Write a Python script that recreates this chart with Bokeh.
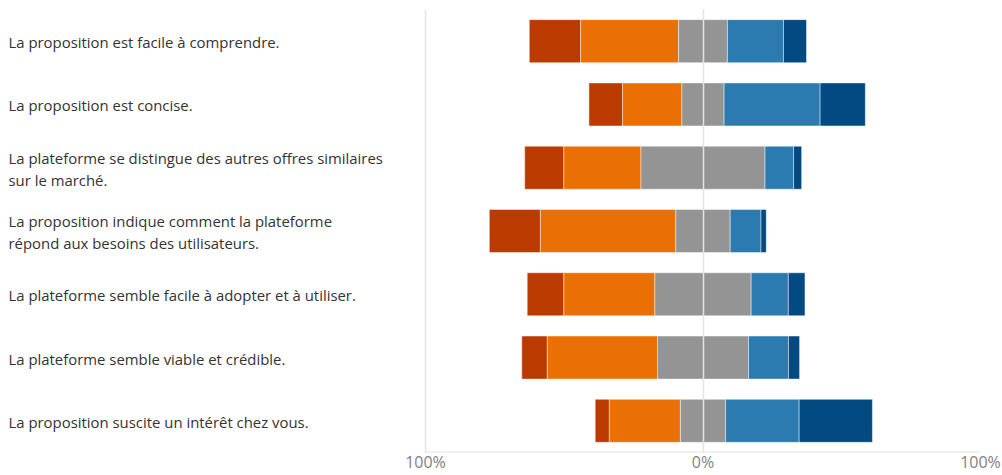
import numpy as np
from bokeh.plotting import figure
from bokeh.models import FactorRange, Range1d, FixedTicker, ColumnDataSource
from bokeh.core.properties import value
from bokeh.embed import file_html
from bokeh.resources import INLINE

categories = [
    "La proposition est facile à comprendre.",
    "La proposition est concise.",
    "La plateforme se distingue des autres offres similaires\nsur le marché.",
    "La proposition indique comment la plateforme\nrépond aux besoins des utilisateurs.",
    "La plateforme semble facile à adopter et à utiliser.",
    "La plateforme semble viable et crédible.",
    "La proposition suscite un intérêt chez vous.",
]
strongly_disagree = [18.5, 12.1, 14.1, 18.4, 13.2, 9.2, 5.1]
disagree = [35.3, 21.4, 27.8, 48.8, 32.8, 39.7, 25.6]
neutral = [17.6, 15.2, 44.7, 19.6, 34.7, 32.8, 16.3]
agree = [20.2, 34.6, 10.3, 11.1, 13.4, 14.4, 26.5]
strongly_agree = [8.3, 16.3, 2.9, 1.9, 6.0, 4.0, 26.4]
tick_values = [-100, 0, 100]
tick_labels = ["100%", "0%", "100%"]

colors = ["#BB3A00", "#EA7006", "#949494", "#2B7BB0", "#034A82"]

W, H = 1002, 475
frame_left_px = 425
right_border = 22
frame_w = W - right_border
px_per_unit = (frame_w - frame_left_px) / 200.0
x_start = -100 - frame_left_px / px_per_unit

sd = np.array(strongly_disagree)
d = np.array(disagree)
n = np.array(neutral)
a = np.array(agree)
sa = np.array(strongly_agree)

half = n / 2
edges = [
    (-half - d - sd, -half - d),
    (-half - d, -half),
    (-half, half),
    (half, half + a),
    (half + a, half + a + sa),
]

p = figure(
    width=W, height=H,
    y_range=FactorRange(factors=list(reversed(categories)), range_padding=0),
    x_range=Range1d(x_start, 100),
    output_backend="svg", toolbar_location=None,
    min_border_left=0, min_border_right=right_border,
    min_border_top=9, min_border_bottom=0,
)
p.outline_line_color = None
p.background_fill_color = "white"

for (l, r), c in zip(edges, colors):
    src = ColumnDataSource(dict(y=categories, left=l, right=r))
    p.hbar(y="y", left="left", right="right", height=0.68, source=src,
           fill_color=c, line_color="white", line_alpha=0.45, line_width=1)

# labels
lab_src = ColumnDataSource(dict(x=[x_start] * len(categories), y=categories, t=categories))
p.text(x="x", y="y", text="t", source=lab_src, x_offset=8, y_offset=1,
       text_font=value("Open Sans"), text_font_size="14.9px", text_color="#333333",
       text_baseline="middle", text_align="left", text_line_height=1.08)

# bottom frame line
p.segment(x0=[-100], x1=[100], y0=[0], y1=[0], line_color="#e3e3e3", line_width=2)

p.yaxis.visible = False
p.ygrid.visible = False
p.xgrid.ticker = FixedTicker(ticks=tick_values)
p.xgrid.grid_line_color = "#e3e3e3"
p.xgrid.grid_line_width = 1.5
p.xgrid.level = "overlay"

p.xaxis.ticker = FixedTicker(ticks=tick_values)
p.xaxis.major_label_overrides = {v: t for v, t in zip(tick_values, tick_labels)}
p.xaxis.axis_line_color = None
p.xaxis.major_tick_line_color = None
p.xaxis.minor_tick_line_color = None
p.xaxis.major_tick_out = 0
p.xaxis.major_tick_in = 0
p.xaxis.major_label_standoff = -2
p.xaxis.major_label_text_font = "Open Sans"
p.xaxis.major_label_text_font_size = "16px"
p.xaxis.major_label_text_color = "#7f7f7f"

open("out.html", "w").write(file_html(p, INLINE))
